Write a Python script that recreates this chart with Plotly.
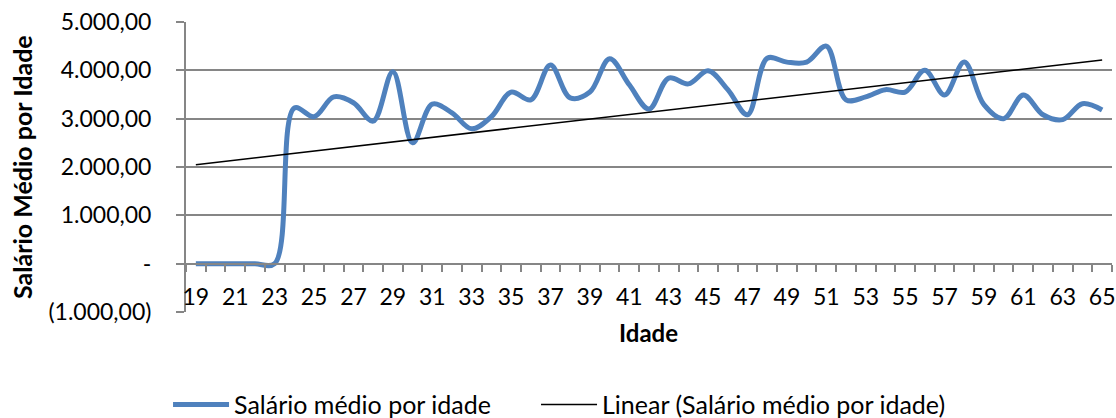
import numpy as np
import plotly.graph_objects as go

ages = list(range(19, 66))
salario = [0, 0, 0, 0, 0, 3220, 3040, 3450, 3330, 2950, 3970, 2500, 3300, 3120, 2790,
           3040, 3550, 3390, 4110, 3430, 3550, 4240, 3700, 3200, 3840, 3720, 3990, 3600,
           3080, 4250, 4170, 4170, 4500, 3390, 3450, 3600, 3550, 4000, 3490, 4170, 3290,
           3000, 3490, 3080, 2980, 3310, 3180]

x_tickvals = list(range(19, 66, 2))
x_ticktext = [str(v) for v in x_tickvals]
y_tickvals = [-1000, 0, 1000, 2000, 3000, 4000, 5000]
y_ticktext = ["(1.000,00)", "-", "1.000,00", "2.000,00", "3.000,00", "4.000,00", "5.000,00"]

slope, intercept = np.polyfit(ages, salario, 1)
trend = [slope * a + intercept for a in ages]

FONT = "Lato"
FS = 23
GRID = "#868686"

fig = go.Figure()
fig.add_trace(go.Scatter(
    x=ages, y=salario, mode="lines", name="Salário médio por idade",
    line=dict(color="#4F81BD", width=5, shape="spline", smoothing=1.0),
    legend="legend",
))
fig.add_trace(go.Scatter(
    x=ages, y=trend, mode="lines", name="Linear (Salário médio por idade)",
    line=dict(color="#000000", width=1.5),
    legend="legend2",
))

legend_common = dict(orientation="h", yanchor="middle", y=-0.32, xanchor="left",
                     font=dict(family=FONT, size=25), itemwidth=56,
                     bgcolor="rgba(0,0,0,0)")

fig.update_layout(
    width=1116, height=418,
    margin=dict(l=186, r=4, t=22, b=106, autoexpand=False),
    paper_bgcolor="white", plot_bgcolor="white",
    font=dict(family=FONT, size=FS, color="#000000"),
    showlegend=True,
    legend=dict(x=-0.0194, **legend_common),
    legend2=dict(x=0.378, **legend_common),
    xaxis=dict(
        range=[18.5, 65.5], anchor="free", position=1/6,
        tickmode="array", tickvals=x_tickvals, ticktext=x_ticktext,
        ticks="", ticklabelstandoff=13, showgrid=False, zeroline=False,
        showline=True, linecolor=GRID, linewidth=2,
        tickfont=dict(family=FONT, size=FS),
        minor=dict(tickvals=[a + 0.5 for a in range(18, 66)], ticks="outside",
                   ticklen=7, tickcolor=GRID, tickwidth=2, showgrid=False),
    ),
    yaxis=dict(
        range=[-1000, 5000], tickmode="array", tickvals=y_tickvals, ticktext=y_ticktext,
        ticks="outside", ticklen=8, tickcolor=GRID, tickwidth=2,
        showgrid=True, gridcolor=GRID, gridwidth=2, zeroline=False,
        showline=True, linecolor=GRID, linewidth=2, ticklabelstandoff=20,
        tickfont=dict(family=FONT, size=FS),
    ),
    annotations=[
        dict(text="<b>Salário Médio por Idade</b>", xref="paper", yref="paper",
             x=-0.1771, y=0.5, textangle=-90, showarrow=False,
             font=dict(family=FONT, size=25), xanchor="center", yanchor="middle"),
        dict(text="<b>Idade</b>", xref="paper", yref="paper",
             x=0.499, y=-0.07, showarrow=False,
             font=dict(family=FONT, size=24), xanchor="center", yanchor="middle"),
    ],
)

fig.write_html("out.html", config={"displayModeBar": False},
               post_script="document.body.style.margin='0px';")
